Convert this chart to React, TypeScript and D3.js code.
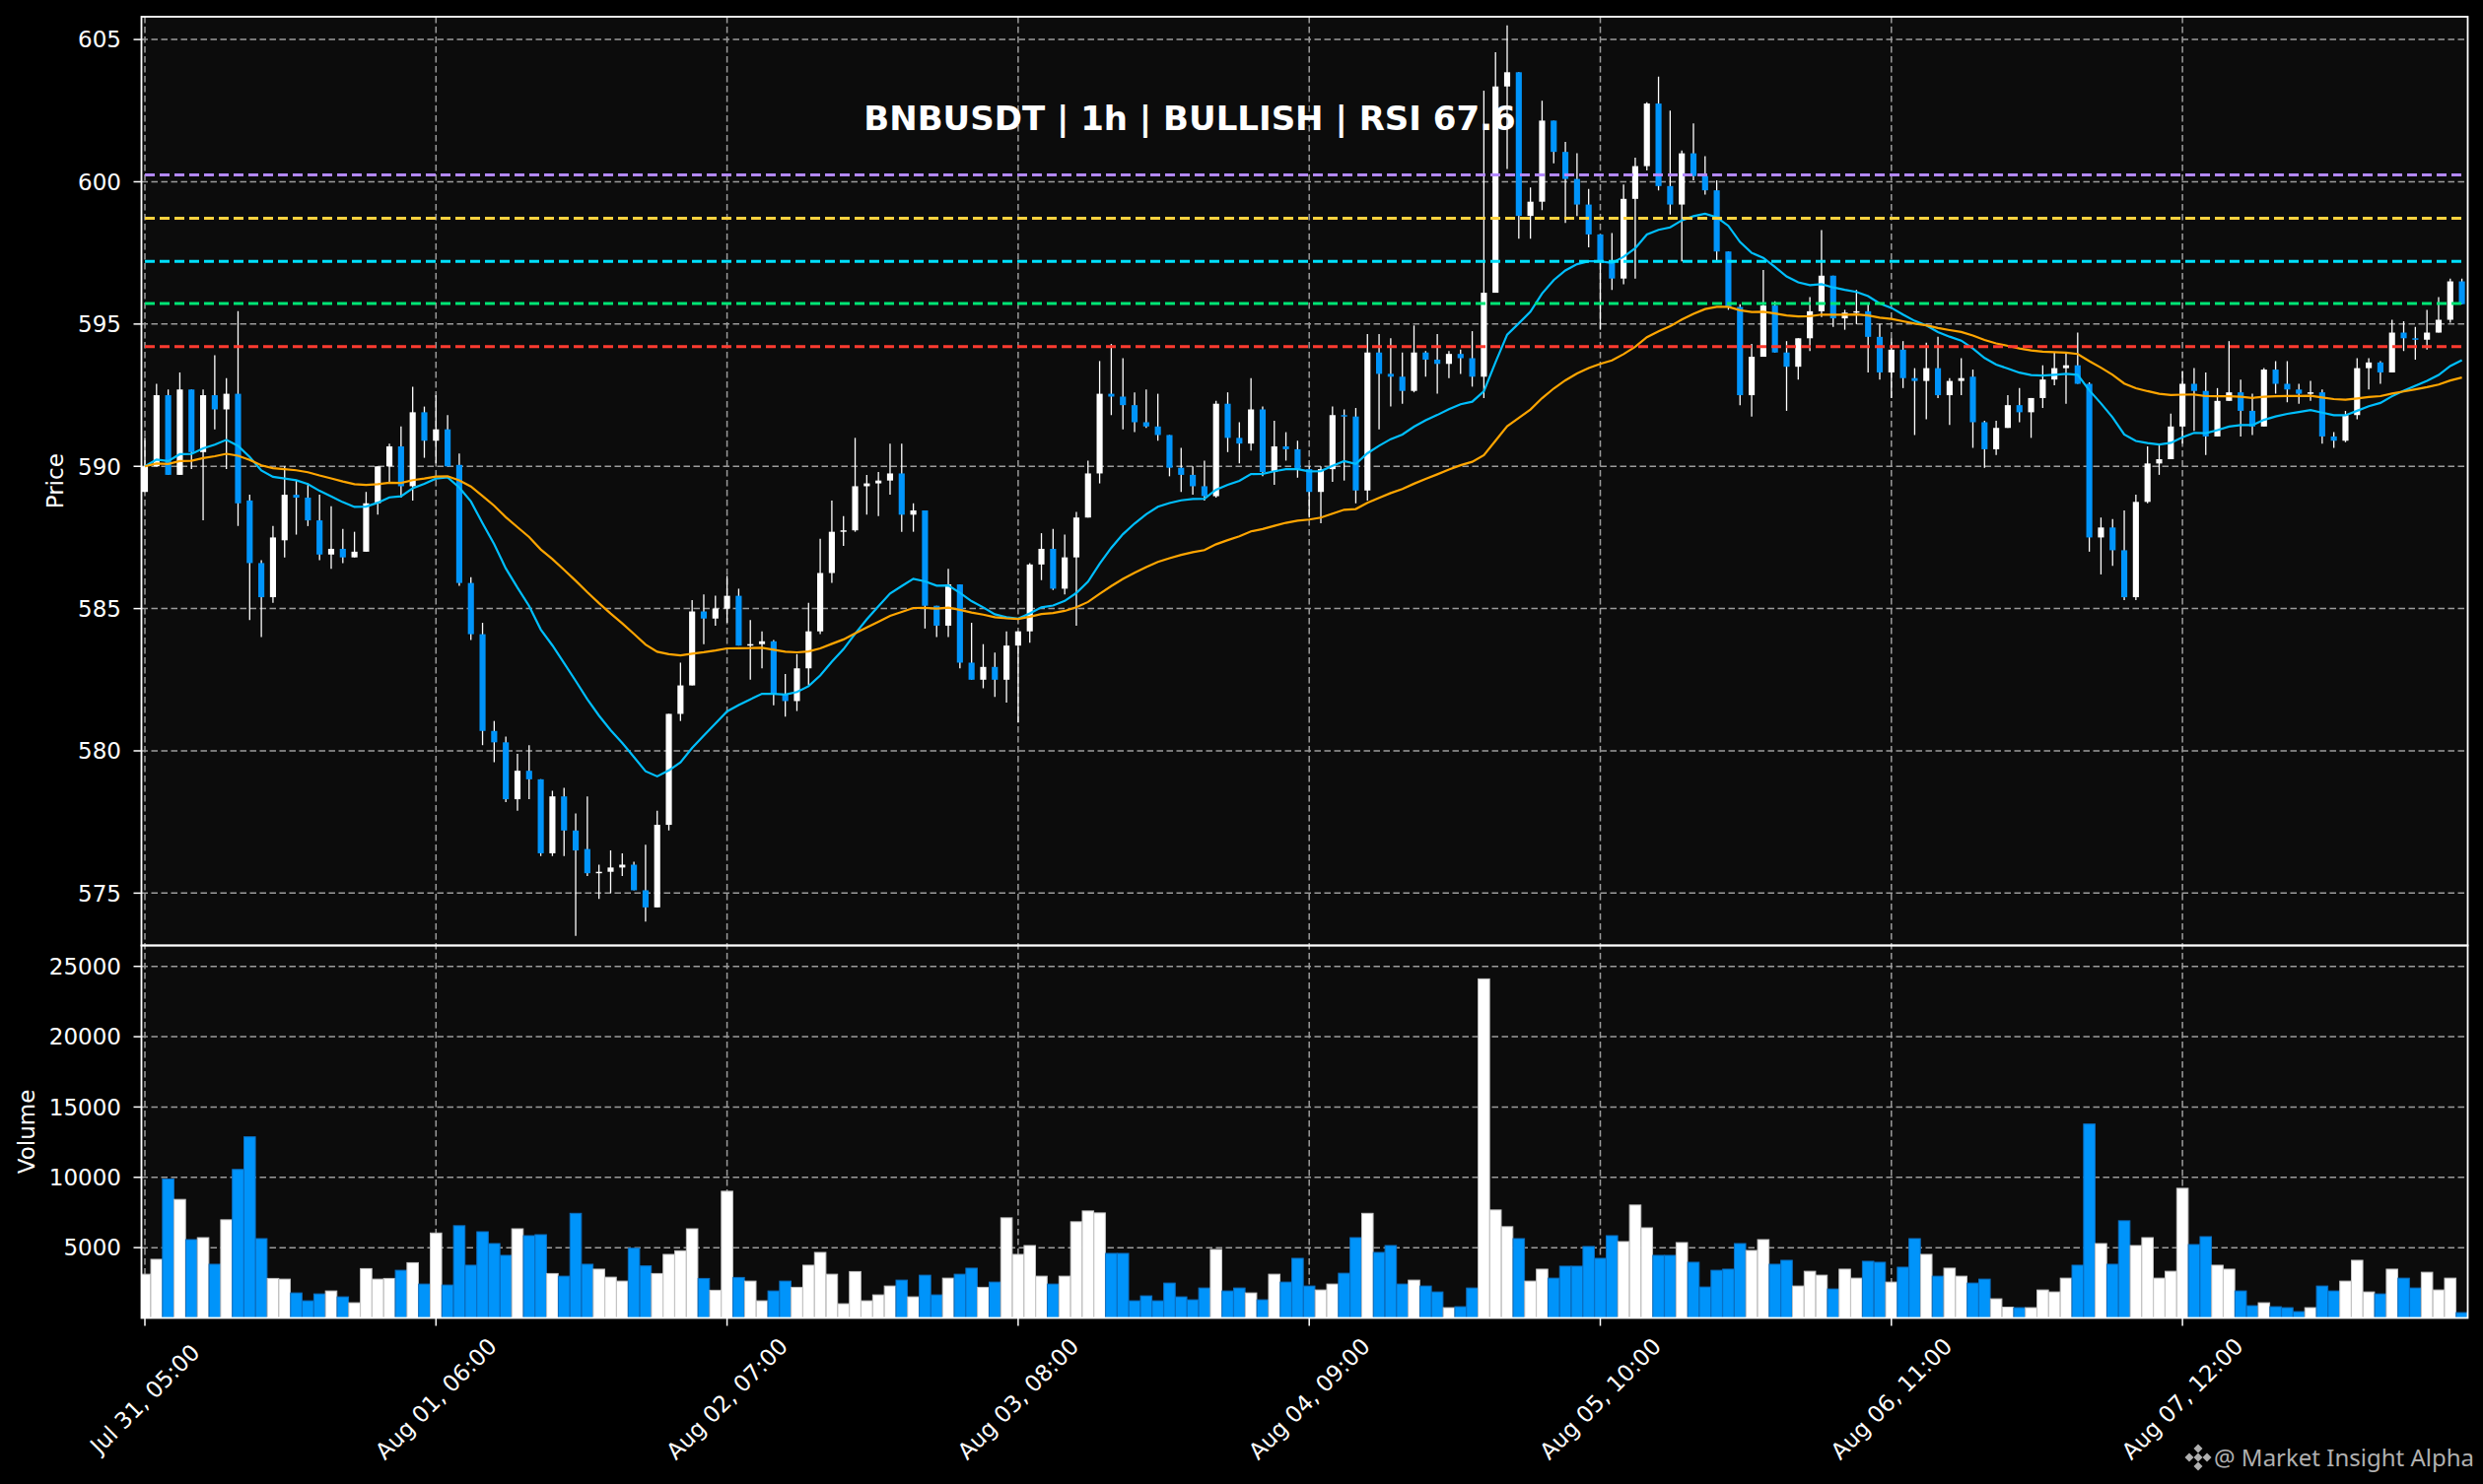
import * as d3 from 'd3';

// hourly BNBUSDT candles
const opens = [
  589.1, 590.0, 592.5, 589.7, 592.7, 590.5, 592.5, 592.0, 592.55, 588.8,
  586.6, 585.4, 587.4, 589.0, 588.9, 588.1, 586.9, 587.1, 586.8, 587.0,
  588.7, 590.0, 590.7, 589.3, 591.9, 590.9, 591.3, 590.05, 585.9, 584.1,
  580.7, 580.3, 578.3, 579.3, 579.0, 576.4, 578.4, 577.2, 576.55, 575.7,
  575.75, 575.9, 576.0, 575.1, 574.5, 577.4, 581.3, 582.3, 584.9, 584.65,
  585.0, 585.45, 583.7, 583.75, 583.85, 582.0, 581.75, 582.9, 584.2, 586.25,
  587.7, 587.75, 589.3, 589.4, 589.5, 589.75, 588.3, 588.45, 585.1, 584.4,
  585.85, 583.1, 582.5, 582.95, 582.5, 583.7, 584.2, 586.55, 587.1, 585.7,
  586.8, 588.2, 589.75, 592.55, 592.45, 592.15, 591.55, 591.4, 591.1, 589.95,
  589.7, 589.3, 588.95, 592.2, 591.0, 590.8, 592.0, 589.8, 590.7, 590.6,
  589.9, 589.1, 589.9, 591.8, 591.75, 589.15, 594.0, 593.25, 593.15, 592.65,
  594.0, 593.75, 593.6, 593.95, 593.8, 593.15, 596.1, 603.35, 603.85, 598.8,
  599.3, 602.15, 601.05, 600.1, 599.2, 598.15, 597.2, 596.6, 599.4, 600.55,
  602.75, 599.85, 599.2, 601.0, 600.2, 599.7, 597.55, 595.6, 592.5, 593.85,
  595.65, 594.0, 593.5, 594.5, 595.45, 596.7, 595.2, 595.4, 595.45, 594.55,
  593.3, 594.1, 593.1, 593.0, 593.45, 592.5, 593.0, 593.15, 591.55, 590.6,
  591.35, 592.15, 591.9, 592.4, 593.05, 593.45, 593.55, 592.9, 587.5, 587.85,
  587.05, 585.4, 588.75, 590.1, 590.25, 591.4, 592.9, 592.65, 591.05, 592.3,
  592.6, 591.95, 591.4, 593.4, 592.9, 592.7, 592.55, 592.6, 591.05, 590.9,
  591.8, 593.45, 593.65, 593.3, 594.7, 594.5, 594.45, 594.7, 595.15, 596.5,
];

const highs = [
  591.0, 592.9, 592.7, 593.3, 592.7, 592.7, 593.9, 593.1, 595.45, 589.0,
  586.7, 587.9, 590.0, 589.5, 589.4, 589.0, 588.6, 587.8, 587.7, 589.1,
  590.0, 590.8, 591.4, 592.8, 592.1, 592.5, 591.8, 590.45, 586.1, 584.5,
  581.05, 580.5, 579.9, 580.2, 579.0, 578.6, 578.7, 577.8, 578.4, 576.0,
  576.5, 576.4, 576.1, 576.7, 577.9, 581.3, 583.1, 585.3, 585.5, 585.45,
  586.15, 585.7, 584.6, 584.2, 583.9, 582.7, 583.4, 585.2, 587.45, 588.8,
  588.25, 591.0, 589.7, 589.8, 590.8, 590.8, 588.7, 588.45, 585.1, 586.4,
  585.85, 584.5, 583.75, 583.45, 584.2, 584.2, 586.6, 587.65, 587.8, 587.6,
  588.4, 590.2, 593.7, 594.3, 593.8, 592.6, 592.7, 592.55, 591.1, 590.65,
  590.0, 590.2, 592.3, 592.6, 591.55, 593.1, 592.1, 591.6, 591.2, 590.9,
  590.0, 590.0, 592.1, 592.0, 592.05, 594.65, 594.65, 594.5, 594.0, 594.95,
  594.05, 594.65, 594.05, 594.1, 594.75, 603.2, 604.55, 605.5, 603.85, 599.8,
  602.85, 602.15, 601.4, 601.0, 599.75, 598.15, 598.2, 599.9, 600.85, 602.8,
  603.7, 602.5, 601.1, 602.05, 600.9, 600.05, 597.55, 595.7, 594.3, 596.9,
  595.8, 594.4, 594.5, 595.95, 598.3, 596.7, 595.5, 596.2, 595.75, 595.0,
  594.5, 594.4, 593.45, 594.35, 594.55, 593.1, 593.8, 593.4, 591.6, 591.6,
  592.5, 592.75, 592.4, 593.55, 594.0, 594.0, 594.7, 592.95, 588.2, 588.15,
  588.45, 589.0, 590.7, 590.8, 591.85, 593.35, 593.45, 593.3, 592.75, 594.4,
  593.05, 592.55, 593.45, 593.7, 593.7, 592.9, 593.0, 592.7, 591.2, 591.95,
  593.8, 593.8, 593.7, 595.15, 595.1, 594.9, 595.5, 595.95, 596.6, 596.6,
];

const lows = [
  589.1, 590.0, 589.7, 589.7, 589.9, 588.1, 591.3, 589.9, 587.9, 584.6,
  584.0, 585.2, 586.8, 587.6, 587.9, 586.7, 586.4, 586.6, 586.8, 587.0,
  588.3, 589.4, 588.9, 588.8, 590.3, 590.1, 590.0, 585.8, 583.9, 580.2,
  579.6, 578.2, 577.9, 578.3, 576.3, 576.3, 576.3, 573.5, 575.6, 574.8,
  575.0, 575.6, 575.1, 574.0, 574.5, 577.2, 581.05, 582.3, 583.75, 584.4,
  584.5, 583.7, 582.5, 582.9, 581.6, 581.2, 581.4, 582.3, 584.1, 585.9,
  587.2, 587.7, 588.3, 588.25, 589.0, 587.7, 587.7, 584.3, 584.0, 584.0,
  582.9, 582.5, 582.2, 581.9, 581.7, 581.0, 583.8, 586.0, 585.65, 585.5,
  584.4, 588.2, 589.4, 591.8, 591.3, 591.2, 591.35, 590.9, 589.65, 589.1,
  589.0, 588.8, 588.9, 590.5, 590.1, 590.55, 589.65, 589.35, 590.2, 589.6,
  588.2, 588.0, 589.45, 589.5, 588.7, 588.8, 591.3, 592.1, 592.2, 592.6,
  593.15, 592.55, 593.1, 593.25, 592.8, 592.4, 596.1, 600.45, 598.0, 598.0,
  599.0, 600.65, 598.55, 598.8, 597.7, 594.8, 596.2, 596.4, 596.6, 600.4,
  599.7, 598.85, 597.2, 600.05, 599.55, 597.2, 595.5, 592.15, 591.75, 593.85,
  594.0, 591.95, 593.05, 594.05, 595.25, 594.9, 594.8, 595.0, 593.3, 593.05,
  592.4, 592.75, 591.1, 591.65, 592.4, 591.45, 592.5, 590.65, 589.95, 590.4,
  591.35, 591.55, 591.0, 592.05, 592.85, 592.2, 592.9, 587.0, 586.2, 586.5,
  585.3, 585.3, 588.7, 589.7, 590.25, 590.8, 591.25, 590.4, 591.05, 592.3,
  591.05, 591.1, 591.4, 592.55, 592.25, 592.2, 592.3, 590.8, 590.65, 590.85,
  591.65, 592.7, 592.9, 593.3, 594.05, 593.75, 594.1, 594.7, 595.05, 595.7,
];

const closes = [
  590.0, 592.5, 589.7, 592.7, 590.5, 592.5, 592.0, 592.55, 588.7, 586.6,
  585.4, 587.5, 589.0, 588.9, 588.1, 586.9, 587.1, 586.8, 587.0, 588.7,
  590.0, 590.7, 589.3, 591.9, 590.9, 591.3, 590.0, 585.9, 584.1, 580.7,
  580.3, 578.3, 579.3, 579.0, 576.4, 578.4, 577.2, 576.5, 575.7, 575.75,
  575.9, 576.0, 575.1, 574.5, 577.4, 581.3, 582.3, 584.9, 584.65, 585.0,
  585.45, 583.7, 583.75, 583.85, 582.0, 581.75, 582.9, 584.2, 586.25, 587.7,
  587.75, 589.3, 589.4, 589.5, 589.75, 588.3, 588.45, 585.1, 584.4, 585.85,
  583.1, 582.5, 582.95, 582.5, 583.7, 584.2, 586.55, 587.1, 585.7, 586.8,
  588.2, 589.75, 592.55, 592.45, 592.15, 591.55, 591.4, 591.1, 589.95, 589.7,
  589.3, 588.95, 592.2, 591.0, 590.8, 592.0, 589.8, 590.7, 590.6, 589.9,
  589.1, 589.9, 591.8, 591.75, 589.15, 594.0, 593.25, 593.15, 592.65, 594.0,
  593.75, 593.6, 593.95, 593.8, 593.15, 596.1, 603.35, 603.85, 598.8, 599.3,
  602.15, 601.05, 600.1, 599.2, 598.15, 597.2, 596.6, 599.4, 600.55, 602.75,
  599.85, 599.2, 601.0, 600.2, 599.7, 597.55, 595.6, 592.5, 593.85, 595.65,
  594.0, 593.5, 594.5, 595.45, 596.7, 595.2, 595.4, 595.45, 594.55, 593.3,
  594.1, 593.1, 593.0, 593.45, 592.5, 593.0, 593.1, 591.55, 590.6, 591.35,
  592.15, 591.9, 592.4, 593.05, 593.45, 593.55, 592.9, 587.5, 587.85, 587.05,
  585.4, 588.75, 590.1, 590.25, 591.4, 592.9, 592.65, 591.05, 592.3, 592.6,
  591.95, 591.4, 593.4, 592.9, 592.7, 592.55, 592.6, 591.05, 590.9, 591.8,
  593.45, 593.65, 593.3, 594.7, 594.5, 594.45, 594.7, 595.15, 596.5, 595.7,
];

const volumes = [
  3110, 4170, 9880, 8430, 5570, 5710, 3820, 6980, 10560, 12880,
  5640, 2810, 2760, 1780, 1220, 1710, 1920, 1500, 1080, 3510,
  2760, 2810, 3390, 3930, 2410, 6040, 2340, 6560, 3750, 6130,
  5290, 4450, 6340, 5850, 5920, 3160, 2970, 7440, 3820, 3470,
  2900, 2620, 4960, 3700, 3160, 4520, 4780, 6340, 2810, 1970,
  9010, 2880, 2620, 1220, 1920, 2620, 2180, 3750, 4660, 3110,
  1010, 3300, 1220, 1640, 2270, 2690, 1500, 3040, 1640, 2830,
  3110, 3540, 2180, 2550, 7120, 4520, 5150, 2970, 2410, 2970,
  6840, 7610, 7470, 4590, 4590, 1220, 1570, 1220, 2480, 1500,
  1290, 2130, 4870, 1920, 2130, 1780, 1290, 3110, 2550, 4240,
  2270, 1990, 2410, 3180, 5710, 7440, 4660, 5150, 2410, 2690,
  2270, 1850, 730, 800, 2130, 24110, 7680, 6490, 5640, 2620,
  3470, 2830, 3680, 3680, 5080, 4240, 5850, 5430, 8030, 6410,
  4450, 4450, 5360, 3960, 2200, 3390, 3470, 5290, 4800, 5570,
  3820, 4100, 2270, 3320, 3040, 2060, 3470, 2830, 4030, 3960,
  2550, 3610, 5640, 4520, 2970, 3540, 2970, 2480, 2760, 1360,
  770, 730, 730, 1990, 1850, 2830, 3750, 13790, 5290, 3820,
  6910, 5150, 5710, 2830, 3320, 9220, 5220, 5780, 3750, 3470,
  1920, 870, 1080, 800, 730, 450, 730, 2270, 1920, 2620,
  4100, 1850, 1710, 3470, 2830, 2130, 3250, 1990, 2830, 380,
];

const xTickIndex = [0, 25, 50, 75, 100, 125, 150, 175];
const xTickLabels = [
  'Jul 31, 05:00', 'Aug 01, 06:00', 'Aug 02, 07:00', 'Aug 03, 08:00',
  'Aug 04, 09:00', 'Aug 05, 10:00', 'Aug 06, 11:00', 'Aug 07, 12:00',
];
const priceTicks = [575, 580, 585, 590, 595, 600, 605];
const volumeTicks = [5000, 10000, 15000, 20000, 25000];

// horizontal key levels (top to bottom)
const levels = [600.24, 598.72, 597.2, 595.72, 594.21];
const levelColors = ['#b388ff', '#ffd23f', '#00e1ff', '#00e676', '#ff3b30'];

const chartTitle = 'BNBUSDT | 1h | BULLISH | RSI 67.6';
const watermark = '@ Market Insight Alpha';

const W = 2519;
const H = 1506;
const LEFT = 143.5;
const RIGHT = 2503.5;
const P_TOP = 17;
const P_BOT = 959.5;
const V_BOT = 1337.5;

const UP = '#ffffff';
const DOWN = '#0094fa';
const FONT = '"DejaVu Sans", sans-serif';

function ema(vals: number[], period: number) {
  const k = 2 / (period + 1);
  const out: number[] = [];
  vals.forEach((v, i) => out.push(i === 0 ? v : v * k + out[i - 1] * (1 - k)));
  return out;
}

export default function App() {
  const n = closes.length;
  const x = d3.scaleLinear().domain([-0.296, n - 0.5]).range([LEFT, RIGHT]);
  const yP = d3.scaleLinear().domain([573.16, 605.8]).range([P_BOT, P_TOP]);
  const yV = d3.scaleLinear().domain([0, 26485]).range([V_BOT, P_BOT]);
  const step = x(1) - x(0);
  const bodyW = step * 0.52;
  const barW = step * 0.98;

  const ema20 = ema(closes, 20);
  const ema50 = ema(closes, 50);
  const line = d3.line<number>().x((_, i) => x(i)).y(d => yP(d));

  const grid = { stroke: '#9c9c9c', strokeWidth: 1.5, strokeDasharray: '6.5,3.5' };

  return (
    <svg width={W} height={H} style={{ position: 'absolute', left: 0, top: 0, background: '#000' }}>
      <rect x={0} y={0} width={W} height={H} fill="#000" />
      <rect x={LEFT} y={P_TOP} width={RIGHT - LEFT} height={V_BOT - P_TOP} fill="#0c0c0c" />

      <defs>
        <clipPath id="pclip"><rect x={LEFT} y={P_TOP} width={RIGHT - LEFT} height={P_BOT - P_TOP} /></clipPath>
        <clipPath id="vclip"><rect x={LEFT} y={P_BOT} width={RIGHT - LEFT} height={V_BOT - P_BOT} /></clipPath>
      </defs>

      {/* grid */}
      <g {...grid}>
        {priceTicks.map(t => <line key={'pg' + t} x1={LEFT} x2={RIGHT} y1={yP(t)} y2={yP(t)} />)}
        {volumeTicks.map(t => <line key={'vg' + t} x1={LEFT} x2={RIGHT} y1={yV(t)} y2={yV(t)} />)}
        {xTickIndex.map(i => <line key={'xg' + i} x1={x(i)} x2={x(i)} y1={P_TOP} y2={V_BOT} />)}
      </g>

      {/* volume bars */}
      <g clipPath="url(#vclip)">
        {volumes.map((v, i) => {
          const up = closes[i] >= opens[i];
          return (
            <rect key={i} x={x(i) - barW / 2} y={yV(v)} width={barW} height={yV(0) - yV(v)}
              fill={up ? UP : DOWN} stroke={up ? '#c4c4c4' : '#0a6fc2'} strokeWidth={1} />
          );
        })}
      </g>

      {/* candles */}
      <g clipPath="url(#pclip)">
        {closes.map((c, i) => {
          const o = opens[i];
          const up = c >= o;
          const top = yP(Math.max(o, c));
          const h = Math.max(1.5, yP(Math.min(o, c)) - top);
          return (
            <g key={i}>
              <line x1={x(i)} x2={x(i)} y1={yP(highs[i])} y2={yP(lows[i])} stroke="#ffffff" strokeWidth={1.3} />
              <rect x={x(i) - bodyW / 2} y={top} width={bodyW} height={h} fill={up ? UP : DOWN} />
            </g>
          );
        })}
        <path d={line(ema20) ?? ''} fill="none" stroke="#00bfff" strokeWidth={2.2} />
        <path d={line(ema50) ?? ''} fill="none" stroke="#ffa500" strokeWidth={2.2} />
        {levels.map((lv, k) => (
          <line key={'lv' + k} x1={x(0)} x2={x(n - 1)} y1={yP(lv)} y2={yP(lv)}
            stroke={levelColors[k]} strokeWidth={3} strokeDasharray="10,5" />
        ))}
      </g>

      {/* title */}
      <text x={1207} y={132} textAnchor="middle" fill="#ffffff" fontFamily={FONT}
        fontWeight="bold" fontSize={34}>{chartTitle}</text>

      {/* spines */}
      <g stroke="#ffffff" strokeWidth={1.8} fill="none">
        <rect x={LEFT} y={P_TOP} width={RIGHT - LEFT} height={P_BOT - P_TOP} />
        <rect x={LEFT} y={P_BOT} width={RIGHT - LEFT} height={V_BOT - P_BOT} />
      </g>

      {/* y axes */}
      <g fontFamily={FONT} fontSize={23} fill="#ffffff">
        {priceTicks.map(t => (
          <g key={'pt' + t}>
            <line x1={LEFT - 8} x2={LEFT} y1={yP(t)} y2={yP(t)} stroke="#fff" strokeWidth={1.5} />
            <text x={123} y={yP(t)} dy="0.36em" textAnchor="end">{t}</text>
          </g>
        ))}
        {volumeTicks.map(t => (
          <g key={'vt' + t}>
            <line x1={LEFT - 8} x2={LEFT} y1={yV(t)} y2={yV(t)} stroke="#fff" strokeWidth={1.5} />
            <text x={123} y={yV(t)} dy="0.36em" textAnchor="end">{t}</text>
          </g>
        ))}
        <text transform={`translate(56,${(P_TOP + P_BOT) / 2}) rotate(-90)`} textAnchor="middle"
          dominantBaseline="central">Price</text>
        <text transform={`translate(27,${(P_BOT + V_BOT) / 2}) rotate(-90)`} textAnchor="middle"
          dominantBaseline="central">Volume</text>
      </g>

      {/* x axis */}
      <g fontFamily={FONT} fontSize={23} fill="#ffffff">
        {xTickIndex.map((i, k) => (
          <g key={'xt' + i}>
            <line x1={x(i)} x2={x(i)} y1={V_BOT} y2={V_BOT + 8} stroke="#fff" strokeWidth={1.5} />
            <text transform={`translate(${x(i)},1419.5) rotate(-45)`} textAnchor="middle"
              dominantBaseline="central">{xTickLabels[k]}</text>
          </g>
        ))}
      </g>

      {/* watermark */}
      <g fill="#b0b0b0" transform="translate(2230,1479)">
        {[[0, -9], [9, 0], [0, 9], [-9, 0], [0, 0]].map(([dx, dy], k) => (
          <rect key={k} x={dx - 3.2} y={dy - 3.2} width={6.4} height={6.4}
            transform={`rotate(45 ${dx} ${dy})`} />
        ))}
      </g>
      <text x={2510} y={1488} textAnchor="end" fill="#b0b0b0" fontFamily='"Noto Sans", sans-serif'
        fontSize={24}>{watermark}</text>
    </svg>
  );
}
